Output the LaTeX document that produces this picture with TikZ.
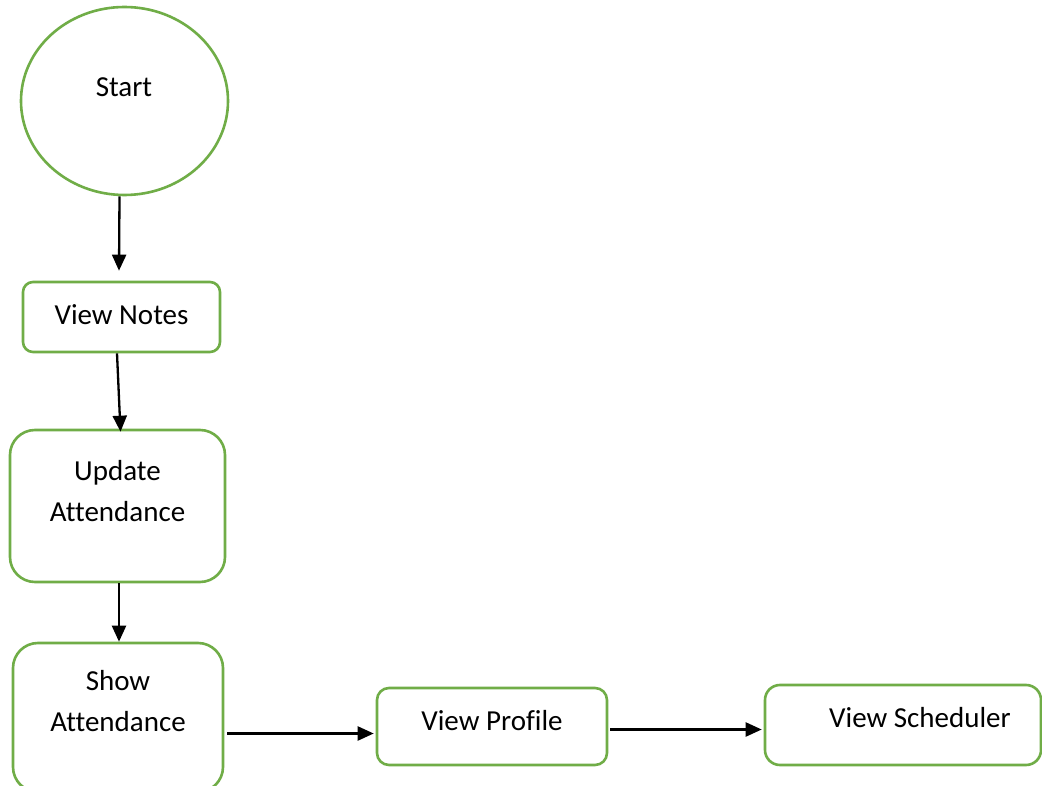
\documentclass[tikz,border=0pt]{standalone}
\usepackage{fontspec}
\setmainfont{Carlito}[Ligatures=NoCommon]
\usetikzlibrary{shapes.geometric,arrows.meta,calc}
\definecolor{boxgreen}{HTML}{70AD47}
\begin{document}
\begin{tikzpicture}[x=1pt,y=-1pt,
  gbox/.style={draw=boxgreen, line width=2.6pt, fill=white, inner sep=0pt},
  txt/.style={font=\fontsize{29}{41}\selectfont, align=center, inner sep=0pt, text=black},
  arr/.style={line width=2.3pt, -{Triangle[length=16pt,width=14pt]}}]
\clip (0,0) rectangle (1042,786);
\fill[white] (0,0) rectangle (1042,786);
% shapes
\node[gbox, ellipse, minimum width=207pt, minimum height=188pt] (start) at (124.5,101) {};
\node[gbox, rounded corners=10pt, minimum width=197pt, minimum height=70pt] (notes) at (121.5,317) {};
\node[gbox, rounded corners=25pt, minimum width=215pt, minimum height=152pt] (upd) at (117.5,506) {};
\node[gbox, rounded corners=25pt, minimum width=210pt, minimum height=149pt] (show) at (118,717.5) {};
\node[gbox, rounded corners=12pt, minimum width=230pt, minimum height=77pt] (profile) at (492,726.5) {};
\node[gbox, rounded corners=15pt, minimum width=276pt, minimum height=80pt] (sched) at (903,725) {};
% texts
\node[txt, anchor=base] (starttxt) at (124,96.5) {Start};
\node[txt, anchor=base] (notestxt) at (121.5,324.5) {View Notes};
\node[txt] (updtxt) at (117.5,491) {Update\\Attendance};
\node[txt] (showtxt) at (118,701) {Show\\Attendance};
\node[txt, anchor=base] (profiletxt) at (492,730) {View Profile};
\node[txt, anchor=base] (schedtxt) at (920,727.5) {View Scheduler};
% connectors
\draw[arr] ($(start.south)+(-5,0)$) -- ($(notes.north)+(-2.5,-10)$);
\draw[arr] ($(notes.south)+(-4.5,0)$) -- ($(upd.north)+(3,3)$);
\draw[arr] ($(upd.south)+(1.5,0)$) -- ($(show.north)+(1,0)$);
\draw[arr] ($(show.east)+(3,16)$) -- ($(profile.west)+(-2,7)$);
\draw[arr] ($(profile.east)+(2,3)$) -- ($(sched.west)+(-2,4.5)$);
\end{tikzpicture}
\end{document}
